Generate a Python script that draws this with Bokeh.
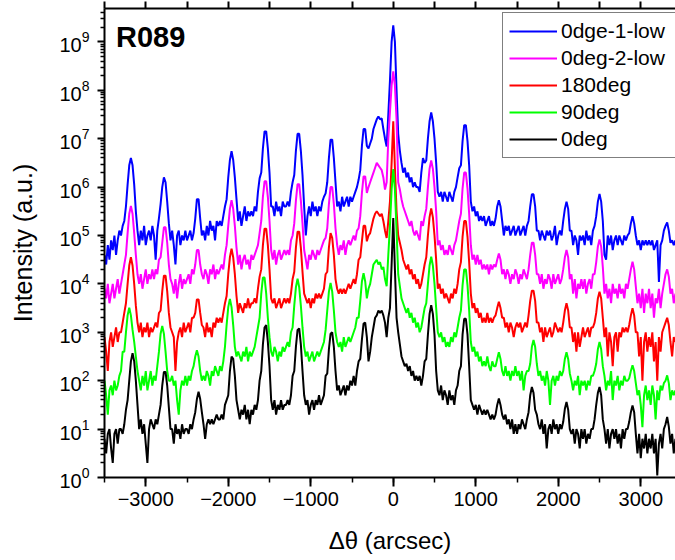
import numpy as np
from bokeh.plotting import figure
from bokeh.models import (Range1d, LinearAxis, FixedTicker, SingleIntervalTicker,
                          Legend, LegendItem, Label)
from bokeh.embed import file_html
from bokeh.resources import INLINE

# Δθ sampling grid (arcsec), step 20
theta = list(range(-3500, 3421, 20))

# log10 of intensity (a.u.), one value per grid point
log_int_0dge_1_low = [
    4.6, 4.4, 4.8, 4.5, 4.9, 4.7, 5.0, 4.6, 4.9, 5.1,
    5.0, 5.2, 5.3, 5.6, 6.05, 6.45, 6.6, 6.45, 6.05, 5.5,
    5.1, 4.8, 5.1, 4.9, 5.2, 4.8, 5.0, 5.1, 4.9, 5.2,
    5.0, 4.5, 5.1, 5.36, 5.65, 6.0, 6.2, 6.1, 5.7, 5.25,
    4.9, 5.1, 4.8, 4.4, 5.0, 5.1, 4.8, 5.0, 4.9, 5.1,
    4.9, 5.0, 5.1, 4.9, 5.05, 5.35, 5.75, 5.75, 5.35, 5.0,
    5.1, 4.9, 5.2, 5.0, 5.3, 5.1, 5.2, 4.9, 5.3, 5.2,
    5.3, 5.2, 5.4, 5.6, 5.75, 6.2, 6.56, 6.74, 6.56, 6.2,
    5.75, 5.3, 5.5, 5.2, 5.4, 5.6, 5.3, 5.5, 5.4, 5.5,
    5.4, 5.6, 5.5, 5.9, 6.18, 6.3, 6.8, 7.15, 7.15, 6.8,
    6.3, 5.6, 5.6, 5.4, 5.7, 5.5, 5.6, 5.4, 5.7, 5.6,
    5.6, 5.7, 5.6, 5.9, 6.1, 6.25, 6.75, 7.1, 7.1, 6.75,
    6.25, 5.6, 5.0, 5.4, 5.6, 5.4, 5.7, 5.5, 5.6, 5.4,
    5.6, 5.5, 5.7, 5.8, 5.87, 6.1, 6.6, 6.98, 6.98, 6.6,
    6.1, 5.6, 5.7, 5.5, 5.8, 5.6, 5.7, 5.8, 5.6, 5.8,
    5.7, 5.8, 5.9, 6.0, 6.15, 6.35, 6.85, 7.2, 7.2, 6.85,
    6.8, 6.9, 7.0, 7.2, 7.3, 7.4, 7.46, 7.4, 7.42, 7.2,
    7.0, 6.84, 7.5, 8.2, 9.0, 9.34, 9.0, 8.0, 7.1, 6.75,
    6.5, 6.3, 6.4, 6.2, 6.3, 6.1, 6.2, 6.0, 6.1, 6.0,
    6.0, 5.9, 6.3, 6.6, 6.5, 6.55, 7.0, 7.36, 7.54, 7.36,
    7.0, 6.5, 5.9, 5.8, 5.9, 5.7, 5.9, 5.8, 5.7, 5.9,
    5.8, 5.7, 5.9, 6.0, 6.2, 6.39, 6.45, 6.95, 7.28, 7.28,
    6.95, 6.45, 5.7, 5.5, 5.6, 5.4, 5.5, 5.3, 5.4, 5.3,
    5.4, 5.2, 5.3, 5.4, 5.2, 5.3, 5.2, 5.35, 5.6, 5.73,
    5.6, 5.3, 5.0, 5.2, 5.1, 5.2, 5.0, 5.1, 5.2, 5.0,
    5.1, 5.2, 5.0, 5.1, 5.2, 5.0, 5.2, 5.3, 5.6, 5.85,
    5.85, 5.6, 5.1, 5.1, 4.9, 5.1, 5.0, 4.9, 5.1, 5.0,
    5.1, 4.9, 5.0, 5.2, 4.8, 5.0, 5.1, 5.0, 5.3, 5.55,
    5.7, 5.55, 5.1, 5.1, 4.8, 5.0, 4.9, 4.6, 5.0, 4.9,
    5.0, 4.8, 5.1, 4.9, 5.0, 4.8, 5.1, 5.2, 5.4, 5.7,
    5.86, 5.7, 5.3, 4.6, 4.5, 5.0, 4.8, 5.0, 4.7, 4.9,
    5.0, 4.8, 5.0, 4.9, 4.8, 5.0, 4.9, 5.0, 5.05, 5.25,
    5.4, 5.25, 5.0, 4.8, 4.9, 4.7, 4.9, 4.8, 4.9, 4.8,
    4.9, 4.8, 4.9, 4.7, 4.8, 4.9, 4.04, 4.8, 4.9, 5.1,
    5.2, 5.27, 5.1, 4.85, 4.9, 4.8, 4.9,
]

log_int_0deg_2_low = [
    3.9, 3.7, 4.0, 3.6, 3.8, 4.0, 3.7, 3.9, 4.1, 3.8,
    4.0, 4.2, 4.4, 4.6, 5.05, 5.45, 5.61, 5.45, 5.05, 4.6,
    4.2, 4.0, 4.2, 3.9, 4.1, 4.3, 4.0, 4.2, 4.1, 4.3,
    4.1, 4.3, 4.2, 4.5, 4.55, 4.85, 5.17, 5.17, 4.85, 4.4,
    4.1, 4.0, 3.8, 4.1, 3.7, 4.0, 4.2, 3.9, 4.1, 4.0,
    4.1, 4.2, 4.0, 4.3, 4.2, 4.4, 4.7, 4.7, 4.4, 4.2,
    4.1, 4.3, 4.2, 4.0, 4.3, 4.2, 4.4, 4.1, 4.3, 4.2,
    4.3, 4.4, 4.3, 4.6, 4.8, 5.2, 5.55, 5.73, 5.55, 5.2,
    4.75, 4.4, 4.6, 4.3, 4.5, 4.6, 4.4, 4.5, 4.3, 4.6,
    4.5, 4.6, 4.7, 4.8, 5.05, 5.3, 5.8, 6.12, 6.12, 5.8,
    5.3, 4.7, 4.5, 4.7, 4.4, 4.6, 4.7, 4.5, 4.6, 4.7,
    4.6, 4.7, 4.6, 4.9, 5.0, 5.25, 5.72, 6.06, 6.06, 5.72,
    5.25, 4.7, 4.5, 4.3, 4.6, 4.5, 4.7, 4.6, 4.5, 4.7,
    4.6, 4.7, 4.8, 4.9, 4.95, 5.15, 5.65, 6.0, 6.0, 5.65,
    5.15, 4.8, 4.6, 4.8, 4.7, 4.9, 4.6, 4.8, 4.9, 4.8,
    4.9, 5.0, 4.9, 5.1, 5.15, 5.4, 5.88, 6.22, 6.22, 5.88,
    6.0, 6.1, 6.2, 6.3, 6.4, 6.5, 6.45, 6.4, 6.35, 6.2,
    5.95, 6.1, 7.0, 7.55, 8.1, 8.39, 8.1, 7.4, 6.1, 5.95,
    5.75, 5.6, 5.5, 5.4, 5.3, 5.2, 5.3, 5.1, 5.0, 5.1,
    5.0, 4.9, 5.3, 5.2, 5.4, 5.55, 6.0, 6.38, 6.55, 6.38,
    6.0, 5.5, 4.8, 4.9, 4.7, 4.8, 4.6, 4.7, 4.6, 4.8,
    4.7, 4.6, 4.8, 4.9, 5.1, 5.3, 5.45, 5.97, 6.3, 6.3,
    5.97, 5.45, 4.8, 4.5, 4.6, 4.4, 4.6, 4.4, 4.5, 4.3,
    4.4, 4.3, 4.4, 4.2, 4.4, 4.3, 4.4, 4.35, 4.5, 4.63,
    4.5, 4.2, 4.3, 4.1, 4.3, 4.2, 4.0, 4.2, 4.1, 4.3,
    4.2, 4.0, 4.2, 4.1, 4.3, 4.2, 4.1, 4.3, 4.6, 4.85,
    4.85, 4.6, 4.2, 4.2, 4.0, 4.2, 3.9, 4.1, 4.0, 4.2,
    4.1, 3.9, 4.2, 4.0, 4.1, 4.2, 4.0, 4.1, 4.3, 4.55,
    4.7, 4.55, 4.1, 4.2, 3.8, 4.1, 3.7, 4.0, 3.9, 4.1,
    3.9, 4.1, 3.8, 4.0, 4.1, 3.9, 4.2, 4.2, 4.45, 4.77,
    4.92, 4.77, 4.35, 3.8, 4.0, 3.7, 3.9, 3.6, 4.0, 3.8,
    3.9, 3.7, 4.0, 3.8, 3.9, 3.7, 4.0, 3.9, 4.1, 4.3,
    4.46, 4.3, 3.95, 3.6, 3.8, 3.5, 3.9, 3.4, 3.8, 3.6,
    3.9, 3.5, 3.8, 3.3, 3.7, 3.6, 3.9, 3.5, 3.8, 4.0,
    4.2, 4.3, 4.15, 3.8, 3.9, 3.6, 3.8,
]

log_int_180deg = [
    2.9, 2.6, 2.2, 2.8, 3.0, 2.7, 2.9, 3.1, 2.8, 3.0,
    3.0, 3.2, 3.4, 3.6, 4.0, 4.38, 4.55, 4.38, 4.0, 3.55,
    3.2, 3.0, 3.2, 2.9, 3.1, 3.0, 3.2, 2.9, 3.1, 3.0,
    3.1, 3.2, 3.1, 3.4, 3.45, 3.85, 4.17, 4.17, 3.85, 3.4,
    3.1, 3.0, 2.9, 2.2, 2.8, 3.0, 3.1, 2.9, 3.2, 3.0,
    3.1, 3.2, 3.0, 3.3, 3.3, 3.4, 3.68, 3.68, 3.4, 3.15,
    3.1, 2.9, 3.2, 3.0, 3.1, 2.9, 3.2, 3.1, 3.3, 3.2,
    3.3, 3.2, 3.4, 3.6, 3.75, 4.2, 4.55, 4.73, 4.55, 4.2,
    3.75, 3.4, 3.6, 3.5, 3.4, 3.6, 3.5, 3.7, 3.5, 3.6,
    3.6, 3.7, 3.6, 3.9, 4.15, 4.3, 4.8, 5.14, 5.14, 4.8,
    4.3, 3.7, 3.6, 3.7, 3.5, 3.6, 3.7, 3.5, 3.6, 3.7,
    3.6, 3.7, 3.6, 3.8, 4.1, 4.25, 4.75, 5.08, 5.08, 4.75,
    4.25, 3.8, 3.7, 3.6, 3.7, 3.5, 3.7, 3.6, 3.8, 3.7,
    3.8, 3.7, 3.8, 3.9, 4.2, 4.25, 4.75, 5.05, 4.95, 4.6,
    4.1, 3.9, 3.8, 3.9, 3.8, 3.9, 3.8, 3.9, 4.0, 3.9,
    4.0, 4.1, 4.0, 4.2, 4.5, 4.55, 4.88, 5.2, 5.2, 4.88,
    5.0, 5.05, 5.2, 5.35, 5.45, 5.5, 5.45, 5.4, 5.45, 5.3,
    5.1, 4.95, 5.3, 5.7, 6.5, 7.36, 6.4, 5.5, 5.0, 4.85,
    4.7, 4.5, 4.4, 4.3, 4.4, 4.2, 4.3, 4.1, 4.2, 4.0,
    4.1, 3.9, 4.0, 4.2, 4.4, 4.55, 5.0, 5.38, 5.56, 5.38,
    5.0, 4.5, 3.9, 4.0, 3.8, 3.9, 3.7, 3.8, 3.7, 3.6,
    3.8, 3.7, 3.9, 3.8, 4.0, 4.3, 4.45, 4.97, 5.3, 5.3,
    4.97, 4.45, 3.8, 3.5, 3.6, 3.4, 3.5, 3.3, 3.4, 3.2,
    3.3, 3.2, 3.4, 3.2, 3.3, 3.2, 3.3, 3.35, 3.5, 3.63,
    3.5, 3.3, 3.3, 3.1, 3.2, 3.0, 3.2, 3.1, 2.9, 3.1,
    3.2, 3.1, 3.2, 3.0, 3.1, 3.2, 3.1, 3.35, 3.65, 3.86,
    3.86, 3.65, 3.2, 3.2, 3.0, 3.1, 2.8, 3.1, 2.9, 3.0,
    3.1, 2.9, 3.0, 3.2, 3.1, 3.0, 3.1, 3.0, 3.2, 3.45,
    3.6, 3.45, 3.1, 3.1, 2.8, 3.0, 2.6, 3.0, 2.7, 2.9,
    3.1, 2.9, 3.0, 3.1, 2.9, 3.1, 3.1, 3.2, 3.4, 3.7,
    3.84, 3.7, 3.3, 2.9, 3.1, 2.5, 3.0, 2.8, 2.3, 2.9,
    3.0, 2.6, 3.0, 2.9, 3.1, 3.0, 3.1, 3.0, 3.15, 3.35,
    3.5, 3.35, 3.0, 3.0, 2.5, 2.9, 2.0, 2.8, 3.0, 2.6,
    2.9, 2.7, 3.0, 2.4, 2.8, 2.0, 2.9, 2.6, 3.0, 3.1,
    3.2, 3.3, 3.15, 2.8, 2.5, 2.9, 2.8,
]

log_int_90deg = [
    2.0, 1.7, 1.3, 1.8, 1.9, 1.7, 2.0, 1.8, 1.9, 2.1,
    2.2, 2.6, 2.6, 3.0, 3.35, 3.51, 3.35, 3.05, 2.8, 2.5,
    2.2, 2.0, 1.8, 2.1, 1.9, 2.2, 1.8, 2.0, 2.2, 1.9,
    2.1, 2.0, 2.3, 2.6, 2.97, 3.13, 2.97, 2.6, 2.2, 2.0,
    2.0, 2.1, 1.9, 2.0, 1.6, 1.3, 1.8, 2.0, 1.9, 2.1,
    1.9, 2.1, 2.0, 2.2, 2.3, 2.5, 2.63, 2.5, 2.2, 2.0,
    2.1, 2.0, 2.2, 2.1, 1.9, 2.2, 2.1, 2.3, 2.2, 2.1,
    2.3, 2.2, 2.4, 2.7, 3.15, 3.52, 3.69, 3.52, 3.15, 2.7,
    2.5, 2.6, 2.5, 2.4, 2.6, 2.5, 2.7, 2.4, 2.6, 2.5,
    2.6, 2.7, 2.9, 3.1, 3.3, 3.8, 4.13, 4.13, 3.8, 3.3,
    2.9, 2.6, 2.5, 2.7, 2.6, 2.4, 2.6, 2.5, 2.7, 2.6,
    2.7, 2.8, 2.7, 3.0, 3.1, 3.55, 3.93, 4.11, 3.93, 3.55,
    3.1, 2.7, 2.5, 2.6, 2.4, 2.5, 2.6, 2.4, 2.5, 2.6,
    2.5, 2.6, 2.7, 2.8, 3.05, 3.45, 3.84, 4.02, 3.84, 3.45,
    3.0, 2.8, 2.7, 2.8, 2.6, 2.9, 2.7, 2.8, 2.9, 2.8,
    2.9, 3.0, 3.1, 3.3, 3.3, 3.65, 4.05, 4.22, 4.05, 3.7,
    3.9, 4.0, 4.2, 4.4, 4.45, 4.5, 4.4, 4.45, 4.3, 4.35,
    4.1, 3.95, 4.6, 5.2, 5.95, 6.37, 5.95, 5.1, 4.2, 3.95,
    3.7, 3.6, 3.5, 3.4, 3.5, 3.3, 3.4, 3.2, 3.3, 3.1,
    3.2, 3.0, 3.1, 3.3, 3.5, 3.6, 4.0, 4.38, 4.56, 4.38,
    4.0, 3.5, 3.0, 2.9, 3.0, 2.8, 2.9, 2.7, 2.8, 2.7,
    2.9, 2.8, 3.0, 2.9, 3.1, 3.3, 3.45, 3.97, 4.3, 4.3,
    3.97, 3.45, 2.8, 2.6, 2.7, 2.5, 2.6, 2.4, 2.5, 2.3,
    2.4, 2.3, 2.5, 2.3, 2.2, 2.4, 2.3, 2.3, 2.45, 2.59,
    2.45, 2.2, 2.1, 2.3, 2.1, 2.2, 2.0, 2.2, 2.1, 2.3,
    2.1, 2.2, 2.0, 2.2, 1.8, 2.1, 2.2, 2.2, 2.35, 2.7,
    2.84, 2.7, 2.35, 2.1, 2.2, 2.0, 2.1, 1.9, 2.2, 2.0,
    1.5, 2.0, 2.1, 1.9, 2.1, 2.0, 2.2, 2.1, 2.2, 2.45,
    2.59, 2.45, 2.15, 2.0, 1.8, 2.0, 1.9, 2.1, 1.7, 2.0,
    1.9, 2.0, 1.8, 2.0, 1.9, 2.1, 2.1, 2.2, 2.35, 2.65,
    2.8, 2.65, 2.3, 2.1, 1.8, 2.0, 1.9, 2.2, 1.6, 2.0,
    1.9, 2.1, 1.8, 2.0, 1.9, 2.1, 2.0, 2.0, 2.05, 2.2,
    2.32, 2.2, 1.95, 1.7, 1.8, 1.5, 1.04, 1.7, 1.9, 1.6,
    1.8, 1.5, 1.9, 1.7, 1.2, 1.8, 1.6, 1.9, 1.8, 1.95,
    2.0, 2.11, 1.95, 1.6, 1.8, 1.7, 1.8,
]

log_int_0deg = [
    0.8, 0.5, 0.9, 1.0, 0.6, 0.3, 0.9, 1.0, 0.7, 1.0,
    1.0, 0.9, 1.1, 1.4, 1.6, 2.0, 2.4, 2.57, 2.4, 2.0,
    1.5, 1.0, 1.2, 0.9, 1.1, 0.7, 0.3, 1.0, 1.2, 1.1,
    1.0, 1.2, 1.1, 1.3, 1.5, 1.9, 2.18, 2.18, 1.9, 1.45,
    1.0, 1.0, 0.7, 1.1, 0.9, 1.0, 0.8, 1.1, 0.9, 1.0,
    1.0, 0.9, 1.1, 1.0, 1.2, 1.35, 1.62, 1.77, 1.62, 1.35,
    1.1, 0.8, 1.1, 1.2, 1.1, 1.2, 1.1, 1.2, 1.3, 1.2,
    1.2, 1.3, 1.2, 1.5, 1.6, 1.7, 2.2, 2.5, 2.45, 2.1,
    1.6, 1.4, 1.2, 1.4, 1.3, 1.5, 1.2, 1.4, 1.1, 1.4,
    1.3, 1.5, 1.4, 1.6, 2.0, 2.2, 2.75, 3.1, 3.15, 2.8,
    2.3, 1.6, 1.4, 1.6, 1.3, 1.5, 1.4, 1.6, 1.4, 1.5,
    1.5, 1.6, 1.5, 1.7, 2.1, 2.2, 2.7, 3.05, 3.08, 2.75,
    2.2, 1.7, 1.5, 1.6, 1.3, 1.5, 1.6, 1.4, 1.6, 1.5,
    1.7, 1.5, 1.6, 1.7, 2.1, 2.15, 2.65, 2.97, 3.0, 2.7,
    2.2, 1.8, 1.9, 1.7, 1.8, 1.9, 1.7, 1.9, 1.8, 2.0,
    1.9, 2.1, 1.9, 2.2, 2.4, 2.45, 2.85, 3.18, 3.2, 2.9,
    2.4, 2.6, 2.9, 3.1, 3.3, 3.35, 3.45, 3.4, 3.45, 3.35,
    3.2, 2.9, 3.3, 3.5, 4.4, 5.36, 4.3, 3.3, 3.0, 2.75,
    2.5, 2.4, 2.3, 2.35, 2.2, 2.3, 2.1, 2.2, 2.0, 2.1,
    2.0, 2.1, 1.9, 2.1, 2.4, 2.45, 2.95, 3.38, 3.56, 3.38,
    2.95, 2.2, 1.8, 1.7, 1.9, 1.6, 1.8, 1.7, 1.5, 1.8,
    1.6, 1.7, 1.5, 1.8, 1.9, 2.2, 2.3, 2.95, 3.28, 3.28,
    2.95, 2.3, 1.6, 1.5, 1.4, 1.5, 1.3, 1.5, 1.4, 1.3,
    1.4, 1.3, 1.4, 1.3, 1.2, 1.3, 1.2, 1.3, 1.5, 1.63,
    1.5, 1.3, 1.2, 1.3, 1.1, 1.2, 1.0, 1.2, 0.9, 1.1,
    0.9, 1.1, 1.0, 1.2, 1.1, 1.0, 1.2, 1.35, 1.7, 1.87,
    1.75, 1.4, 1.3, 1.1, 1.0, 1.2, 0.9, 1.1, 0.6, 1.0,
    1.1, 0.9, 1.2, 1.0, 1.1, 0.9, 1.1, 1.0, 1.15, 1.42,
    1.56, 1.4, 1.0, 0.9, 1.0, 0.7, 1.0, 0.9, 0.6, 1.0,
    0.8, 1.0, 0.7, 0.9, 0.8, 1.0, 1.0, 1.2, 1.5, 1.75,
    1.87, 1.7, 1.2, 1.0, 0.7, 1.0, 0.6, 0.9, 1.0, 0.8,
    1.0, 0.7, 0.9, 0.6, 1.0, 0.8, 1.0, 1.0, 1.15, 1.35,
    1.49, 1.35, 0.9, 0.5, 0.9, 0.4, 0.8, 0.6, 0.9, 0.5,
    0.8, 0.6, 0.9, 0.5, 0.8, 0.04, 0.7, 0.9, 0.6, 1.0,
    1.1, 1.25, 1.05, 0.7, 0.9, 0.5, 0.8,
]

series_names = ["0dge-1-low", "0deg-2-low", "180deg", "90deg", "0deg"]
series_colors = ["#0000FF", "#FF00FF", "#FF0000", "#00FF00", "#000000"]
series_logs = [log_int_0dge_1_low, log_int_0deg_2_low, log_int_180deg,
               log_int_90deg, log_int_0deg]

y_decades = list(range(0, 10))

FONT = "Liberation Sans"

p = figure(width=675, height=560, output_backend="svg", toolbar_location=None,
           x_range=Range1d(-3500, 3421), y_range=Range1d(1, 10 ** 9.69),
           y_axis_type="log",
           min_border_left=104, min_border_right=0, min_border_top=8,
           min_border_bottom=83)
p.xgrid.visible = False
p.ygrid.visible = False
p.outline_line_color = None
p.background_fill_color = "white"
p.border_fill_color = "white"

items = []
for name, color, vals in zip(series_names, series_colors, series_logs):
    assert len(vals) == len(theta), (name, len(vals))
    y = np.power(10.0, np.array(vals))
    r = p.line(theta, y, line_color=color, line_width=2)
    items.append(LegendItem(label=name, renderers=[r]))

# axes
xa = p.xaxis[0]
xa.ticker = SingleIntervalTicker(interval=1000, num_minor_ticks=2)
xa.axis_label = "Δθ (arcsec)"
ya = p.yaxis[0]
ya.ticker = FixedTicker(ticks=[10.0 ** k for k in y_decades],
                        minor_ticks=[m * 10.0 ** k for k in y_decades for m in range(2, 10)])
ya.axis_label = "Intensity (a.u.)"

for ax in (xa, ya):
    ax.axis_line_width = 2
    ax.axis_line_color = "black"
    ax.major_tick_line_width = 2
    ax.minor_tick_line_width = 1.5
    ax.major_tick_line_color = "black"
    ax.minor_tick_line_color = "black"
    ax.major_tick_in = 0
    ax.minor_tick_in = 0
    ax.major_label_text_font = FONT
    ax.major_label_text_color = "black"
    ax.axis_label_text_font = FONT
    ax.axis_label_text_font_style = "normal"
    ax.axis_label_text_color = "black"

xa.major_tick_out = 9
xa.minor_tick_out = 5
xa.major_label_text_font_size = "20px"
xa.major_label_standoff = 5
xa.axis_label_standoff = 18
xa.axis_label_text_font_size = "24px"

ya.major_tick_out = 7
ya.minor_tick_out = 4
ya.major_label_text_font_size = "20px"
ya.major_label_standoff = 8
ya.axis_label_standoff = 19
ya.axis_label_text_font_size = "25px"

# top frame edge: tick marks only, no labels
top_marks = list(range(-3500, 3421, 500))
top = LinearAxis(ticker=FixedTicker(ticks=[], minor_ticks=top_marks),
                 axis_line_width=2, axis_line_color="black",
                 major_tick_out=0, major_tick_in=0,
                 minor_tick_out=7, minor_tick_in=0,
                 minor_tick_line_width=2, minor_tick_line_color="black")
p.add_layout(top, "above")

legend = Legend(items=items, location=(398, 319),
                label_text_font=FONT, label_text_font_size="21px",
                label_text_color="black",
                glyph_width=48, glyph_height=24, label_height=24, label_width=108,
                spacing=3, padding=6, label_standoff=4, margin=0,
                border_line_color="black", border_line_width=1.5,
                background_fill_color="white", background_fill_alpha=1.0)
p.add_layout(legend)

p.add_layout(Label(x=-3360, y=10 ** 9.11, text="R089", text_font=FONT,
                   text_font_size="29px", text_font_style="bold",
                   text_baseline="middle", text_color="black"))

open("out.html", "w").write(file_html(p, INLINE))
